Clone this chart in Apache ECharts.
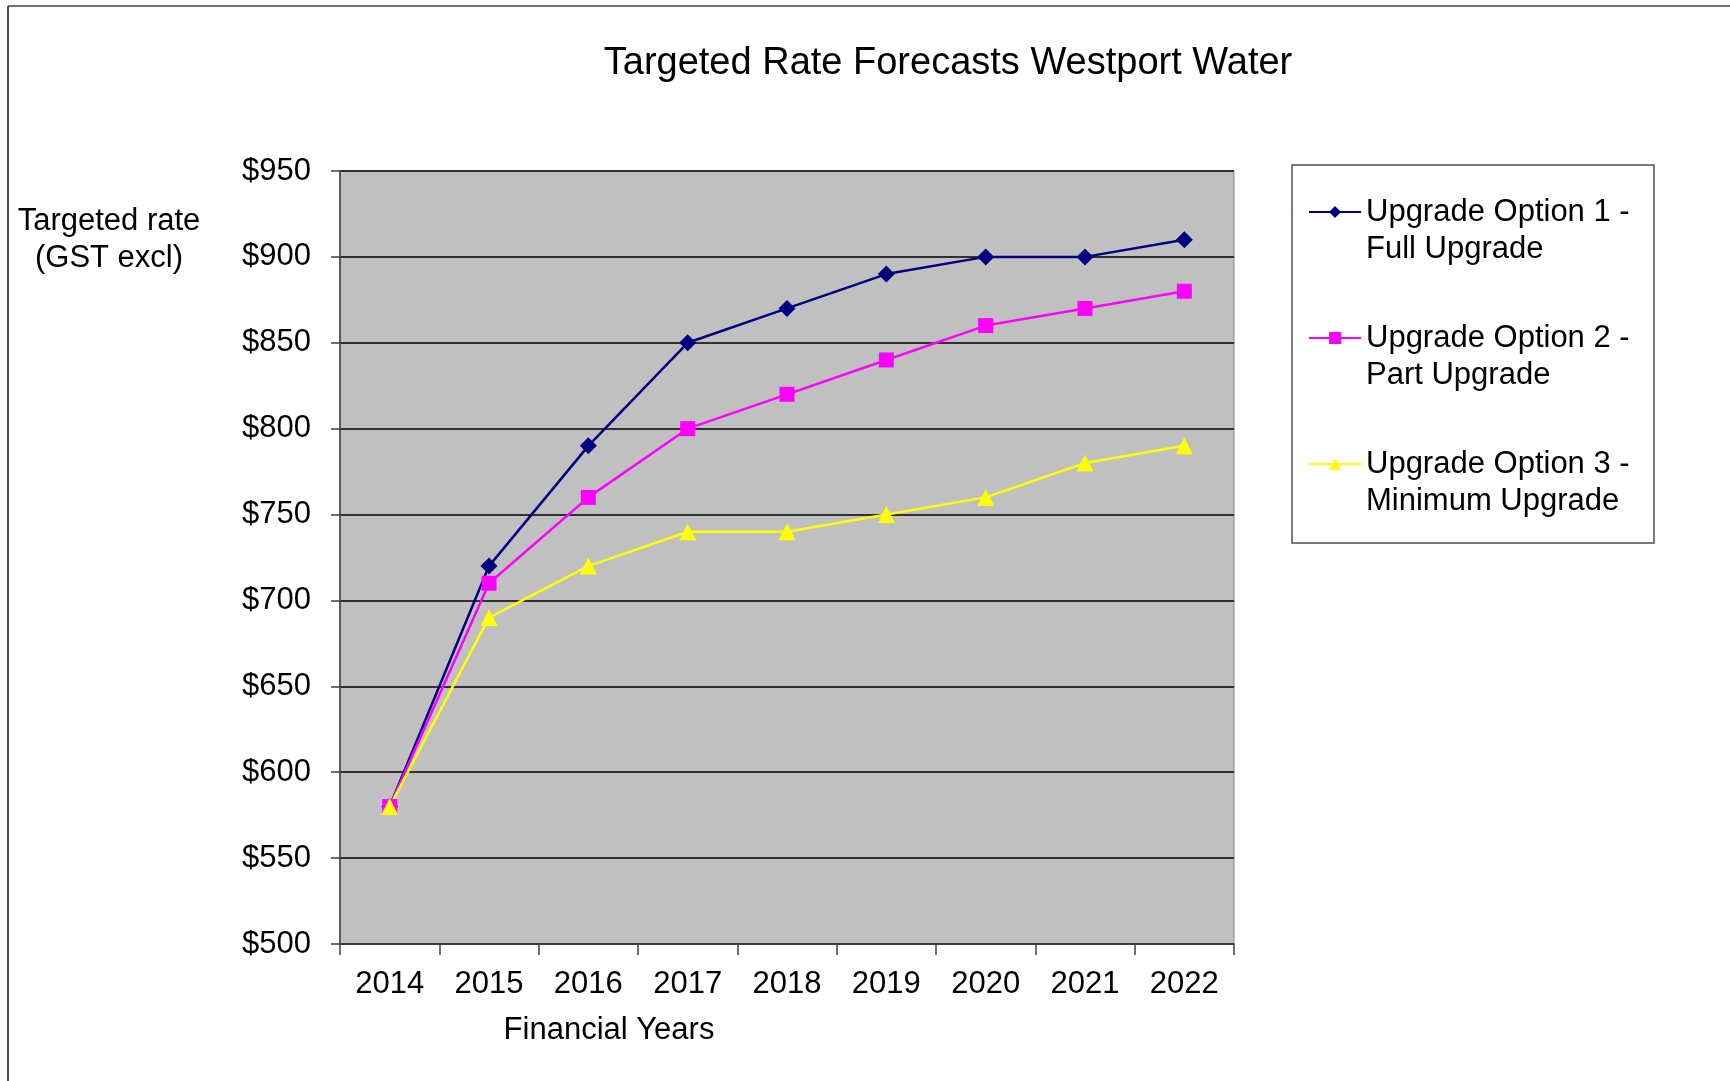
<!DOCTYPE html>
<html>
<head>
<meta charset="utf-8">
<script src="https://cdn.jsdelivr.net/npm/echarts@6/dist/echarts.min.js"></script>
<style>
html,body{margin:0;padding:0;background:#fff;}
#chart{width:1730px;height:1081px;}
</style>
</head>
<body>
<div id="chart"></div>
<script>
const years = ['2014','2015','2016','2017','2018','2019','2020','2021','2022'];
const option1Full = [580, 720, 790, 850, 870, 890, 900, 900, 910];
const option2Part = [580, 710, 760, 800, 820, 840, 860, 870, 880];
const option3Min = [580, 690, 720, 740, 740, 750, 760, 780, 790];
const seriesNames = ['Upgrade Option 1 -\nFull Upgrade', 'Upgrade Option 2 -\nPart Upgrade', 'Upgrade Option 3 -\nMinimum Upgrade'];
const titleText = 'Targeted Rate Forecasts Westport Water';
const yAxisTitle = 'Targeted rate\n(GST excl)';
const xAxisTitle = 'Financial Years';

const FONT = "'Liberation Sans', Arial, sans-serif";
const chart = echarts.init(document.getElementById('chart'), null, {renderer: 'canvas'});

const option = {
  animation: false,
  backgroundColor: '#ffffff',
  textStyle: {fontFamily: FONT},
  grid: {
    left: 340, right: 496, top: 171, bottom: 137,
    show: true, backgroundColor: '#C0C0C0', borderColor: '#808080', borderWidth: 1
  },
  legend: {
    orient: 'vertical',
    left: 1308, top: 156.5,
    padding: 0,
    itemGap: 15,
    itemWidth: 52, itemHeight: 15,
    formatter: name => '\n' + name,
    textStyle: {fontSize: 31, lineHeight: 37, color: '#000', fontFamily: FONT},
    data: seriesNames
  },
  xAxis: {
    type: 'category',
    data: years,
    boundaryGap: true,
    axisLine: {show: true, lineStyle: {color: '#404040', width: 1.5}},
    axisTick: {show: true, length: 11, lineStyle: {color: '#404040', width: 1.5}},
    axisLabel: {fontSize: 31, color: '#000', margin: 25, fontFamily: FONT},
    splitLine: {show: false}
  },
  yAxis: {
    type: 'value',
    min: 500, max: 950, interval: 50,
    axisLine: {show: true, lineStyle: {color: '#404040', width: 1.5}},
    axisTick: {show: true, length: 9, lineStyle: {color: '#404040', width: 1.5}},
    axisLabel: {fontSize: 31, color: '#000', margin: 29, fontFamily: FONT, formatter: v => '$' + v},
    splitLine: {show: true, lineStyle: {color: '#303030', width: 2}}
  },
  series: [
    {name: seriesNames[0], type: 'line', data: option1Full, symbol: 'diamond', symbolSize: 17,
     itemStyle: {color: '#000080'}, lineStyle: {color: '#000080', width: 2.5}},
    {name: seriesNames[1], type: 'line', data: option2Part, symbol: 'rect', symbolSize: 15,
     itemStyle: {color: '#FF00FF'}, lineStyle: {color: '#FF00FF', width: 2.5}},
    {name: seriesNames[2], type: 'line', data: option3Min, symbol: 'triangle', symbolSize: 17,
     itemStyle: {color: '#FFFF00'}, lineStyle: {color: '#FFFF00', width: 2.5}}
  ],
  graphic: [
    {type: 'line', shape: {x1: 8, y1: 6, x2: 1730, y2: 6}, style: {stroke: '#707070', lineWidth: 2}, z: 0},
    {type: 'line', shape: {x1: 8, y1: 6, x2: 8, y2: 1081}, style: {stroke: '#505050', lineWidth: 2}, z: 0},
    {type: 'rect', shape: {x: 1292, y: 165, width: 362, height: 378},
     style: {fill: '#ffffff', stroke: '#505050', lineWidth: 1.5}, z: 0},
    {type: 'text', x: 948, y: 64,
     style: {text: titleText, font: "38px " + FONT, fill: '#000', align: 'center', verticalAlign: 'middle'}, z: 5},
    {type: 'text', x: 109, y: 240,
     style: {text: yAxisTitle, font: "31px " + FONT, fill: '#000', align: 'center', verticalAlign: 'middle', lineHeight: 37}, z: 5},
    {type: 'text', x: 609, y: 1030,
     style: {text: xAxisTitle, font: "31px " + FONT, fill: '#000', align: 'center', verticalAlign: 'middle'}, z: 5}
  ]
};
chart.setOption(option);
</script>
</body>
</html>
